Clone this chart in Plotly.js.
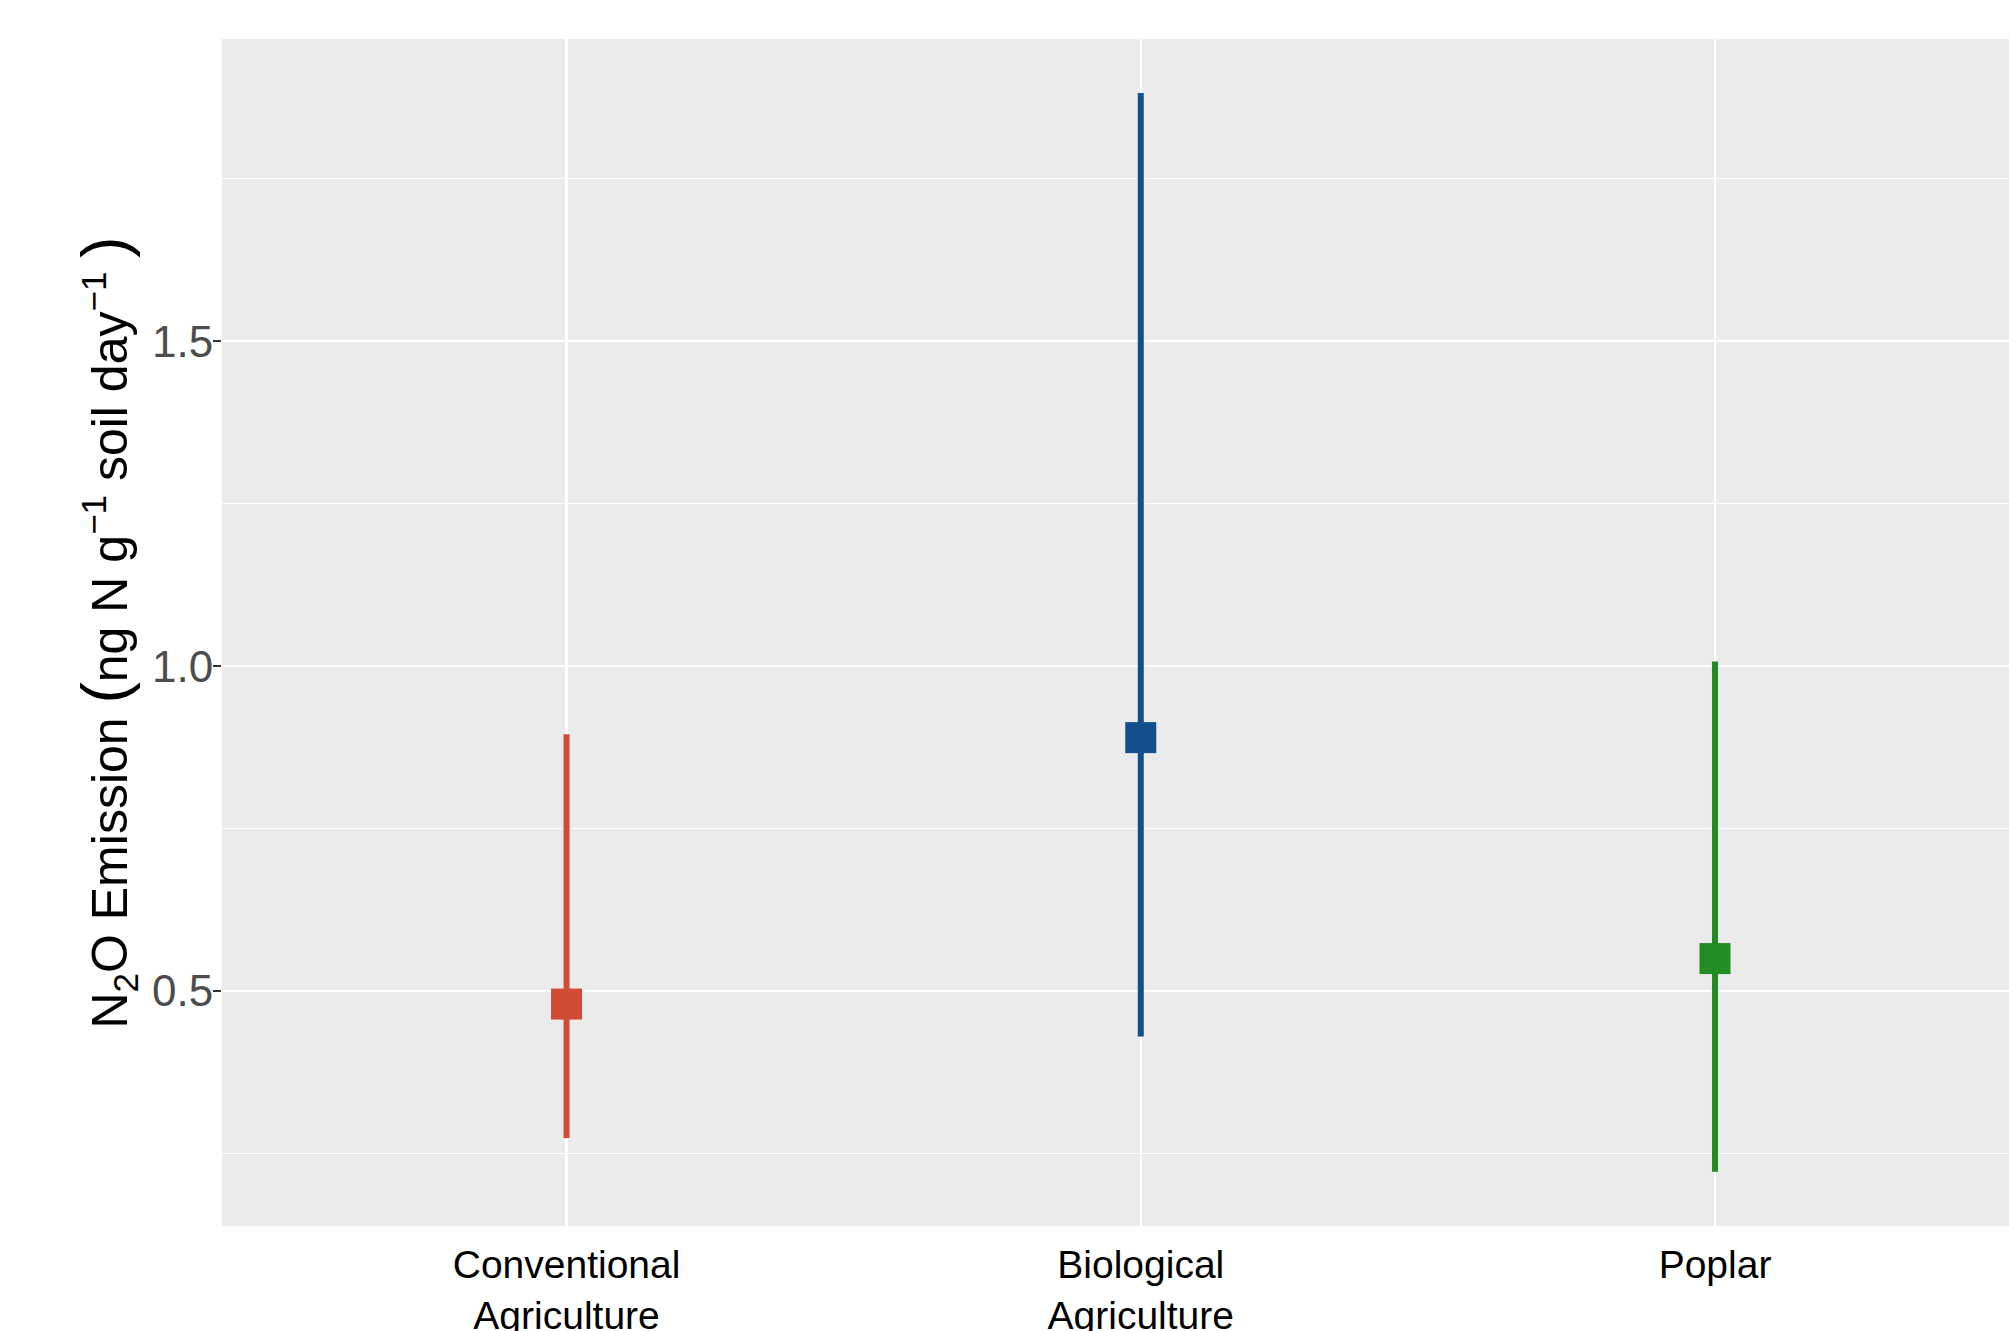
<!DOCTYPE html>
<html>
<head>
<meta charset="utf-8">
<script src="https://cdn.plot.ly/plotly-3.0.1.min.js"></script>
<style>
  html, body { margin: 0; padding: 0; background: #ffffff; }
  #chart { width: 2009px; height: 1331px; }
</style>
</head>
<body>
<div id="chart"></div>
<script>
// ---- data ----
const categories = ["Conventional<br>Agriculture", "Biological<br>Agriculture", "Poplar"];
const means  = [0.480, 0.890, 0.550];
const lowers = [0.274, 0.430, 0.222];
const uppers = [0.895, 1.882, 1.007];
const colors = ["#D14B35", "#134F8C", "#228B22"];
const yTickVals = [0.5, 1.0, 1.5];
const yTickText = ["0.5", "1.0", "1.5"];

const traces = categories.map((cat, i) => ({
  type: "scatter",
  mode: "markers",
  x: [cat],
  y: [means[i]],
  showlegend: false,
  hoverinfo: "skip",
  marker: { symbol: "square", size: 31, color: colors[i], line: { width: 0 } },
  error_y: {
    type: "data",
    symmetric: false,
    array: [uppers[i] - means[i]],
    arrayminus: [means[i] - lowers[i]],
    color: colors[i],
    thickness: 6,
    width: 0
  }
}));

const sans = "'Liberation Sans', Arial, sans-serif";

const layout = {
  width: 2009,
  height: 1331,
  paper_bgcolor: "#ffffff",
  plot_bgcolor: "#EBEBEB",
  margin: { l: 222, r: 0, t: 39, b: 105, pad: 0 },
  showlegend: false,
  xaxis: {
    type: "category",
    categoryorder: "array",
    categoryarray: categories,
    range: [-0.6, 2.512],
    showgrid: true,
    gridcolor: "#ffffff",
    gridwidth: 2.5,
    zeroline: false,
    showline: false,
    ticks: "",
    ticklabelstandoff: 12,
    tickfont: { family: sans, size: 39, color: "#000000" },
    automargin: false,
    fixedrange: true
  },
  yaxis: {
    range: [0.1385, 1.965],
    tickmode: "array",
    tickvals: yTickVals,
    ticktext: yTickText,
    showgrid: true,
    gridcolor: "#ffffff",
    gridwidth: 2.5,
    zeroline: false,
    showline: false,
    ticks: "outside",
    ticklen: 8,
    tickwidth: 2,
    tickcolor: "#333333",
    ticklabelstandoff: -9,
    tickfont: { family: sans, size: 44, color: "#4D4D4D" },
    minor: { tick0: 0.25, dtick: 0.5, showgrid: true, gridcolor: "#ffffff", gridwidth: 1.2, ticks: "" },
    title: {
      text: "N<sub>2</sub>O Emission <span style=\"font-size:64px\">(</span>ng N g<sup>−1</sup> soil day<sup>−1</sup> <span style=\"font-size:64px\">)</span>",
      font: { family: sans, size: 50, color: "#000000" },
      standoff: 8
    },
    automargin: false,
    fixedrange: true
  }
};

Plotly.newPlot("chart", traces, layout, { displayModeBar: false, staticPlot: true });
</script>
</body>
</html>
